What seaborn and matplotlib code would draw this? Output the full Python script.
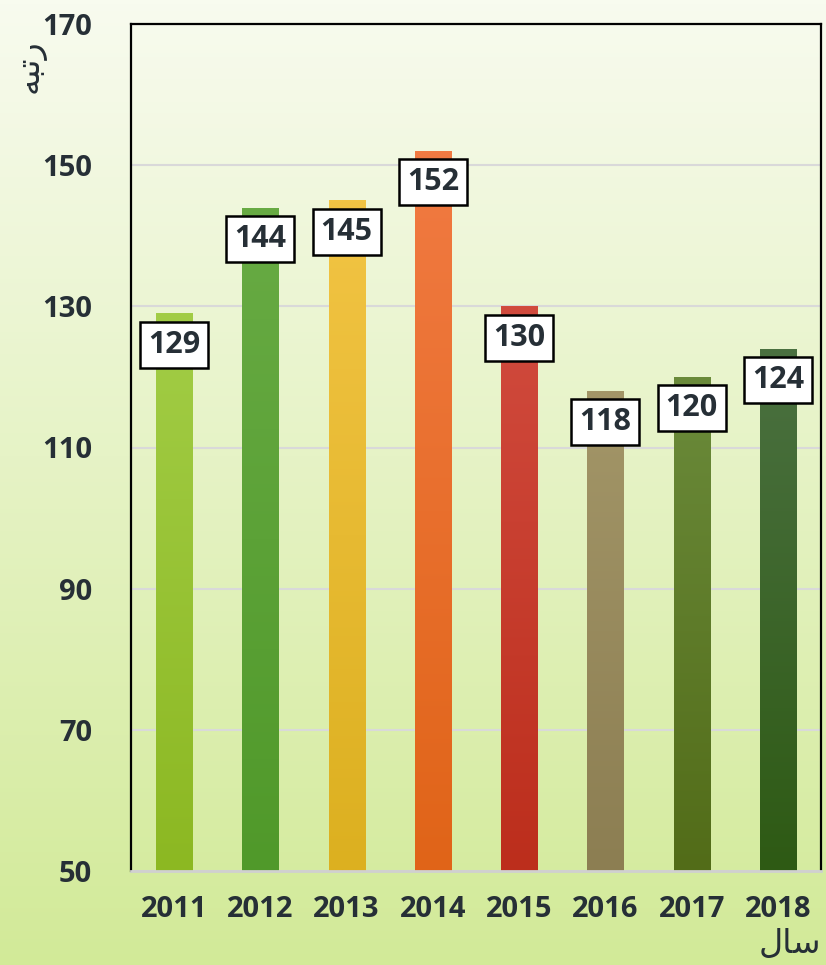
import numpy as np
import pandas as pd
import matplotlib
matplotlib.use("Agg")
import matplotlib.pyplot as plt
from matplotlib.colors import to_rgb
import seaborn as sns

years = ["2011", "2012", "2013", "2014", "2015", "2016", "2017", "2018"]
ranks = [129, 144, 145, 152, 130, 118, 120, 124]
top_colors = ["#a2cd46", "#68ab44", "#f2c444", "#f17a42", "#d14b3e", "#a39668", "#6b8b3b", "#4b7141"]
bottom_colors = ["#8cb822", "#50992a", "#dcb020", "#e06418", "#bc2e1c", "#8c7e52", "#526c18", "#2e5a14"]
y_ticks = [50, 70, 90, 110, 130, 150, 170]
y_label = "\uFEEA\uFE92\uFE97\uFEAD"   # رتبه
x_label = "\uFEDD\uFE8E\uFEB3"         # سال

sns.set_theme(style="white")
plt.rcParams['font.family'] = ['Open Sans', 'DejaVu Sans']
text_color = "#262f36"

W, H = 826, 965
fig = plt.figure(figsize=(W / 100, H / 100), dpi=100)

# background gradient
bg = fig.add_axes([0, 0, 1, 1], zorder=-10)
c_top = np.array(to_rgb("#f8fbef"))
c_bot = np.array(to_rgb("#d2ea98"))
t = np.linspace(0, 1, 256)[:, None, None]
grad = c_top[None, None, :] * (1 - t) + c_bot[None, None, :] * t
bg.imshow(grad, aspect="auto", extent=[0, 1, 0, 1])
bg.set_axis_off()

ax = fig.add_axes([131 / W, 1 - 871 / H, 690 / W, 847 / H])
ax.set_facecolor("none")

df = pd.DataFrame({"year": years, "rank": ranks})
sns.barplot(data=df, x="year", y="rank", hue="year", palette=bottom_colors,
            legend=False, width=0.42, ax=ax, zorder=3)

ymin, ymax = 50, 170
patches = sorted(ax.patches, key=lambda p: p.get_x())
for p, ct, cb in zip(patches, top_colors, bottom_colors):
    x0, w, h = p.get_x(), p.get_width(), p.get_height()
    a = np.array(to_rgb(ct)); b = np.array(to_rgb(cb))
    tt = np.linspace(0, 1, 200)[:, None, None]
    g = a[None, None, :] * (1 - tt) + b[None, None, :] * tt
    im = ax.imshow(g, aspect="auto", extent=[x0, x0 + w, ymin, h], zorder=3,
                   interpolation="bilinear")
    im.set_clip_path(p)
    p.set_facecolor("none")
    p.set_edgecolor("none")

for i, v in enumerate(ranks):
    ax.annotate(str(v), xy=(i, v), xytext=(0, -22.5), textcoords="offset points",
                ha="center", va="center", fontsize=22, fontweight="bold",
                color=text_color, zorder=6,
                bbox=dict(boxstyle="square,pad=0.26", fc="white", ec="black", lw=1.8))

ax.set_xlim(-0.5, 7.5)
ax.set_ylim(ymin, ymax)
ax.set_yticks(y_ticks)
ax.set_yticklabels([str(v) for v in y_ticks])
ax.yaxis.grid(True, color="#d9d9d9", lw=1.5, zorder=0)
ax.set_axisbelow(True)
ax.tick_params(axis="both", length=0, labelsize=21, labelcolor=text_color)
ax.tick_params(axis="y", pad=28)
ax.tick_params(axis="x", pad=17)
for lab in ax.get_xticklabels() + ax.get_yticklabels():
    lab.set_fontweight("bold")
ax.set_xlabel("")
ax.set_ylabel("")
for s in ["left", "top", "right"]:
    ax.spines[s].set_color("black")
    ax.spines[s].set_linewidth(1.6)
    ax.spines[s].set_visible(True)
ax.spines["bottom"].set_color("#d0d0d0")
ax.spines["bottom"].set_linewidth(2)
ax.spines["bottom"].set_zorder(5)

fig.text(29 / W, 1 - 66 / H, y_label, rotation=90, ha="center", va="center",
         fontsize=24, color=text_color, family=['DejaVu Sans'])
fig.text(790 / W, 1 - 944 / H, x_label, ha="center", va="center",
         fontsize=24, color=text_color, family=['DejaVu Sans'])

fig.savefig("out.png", dpi=100)
